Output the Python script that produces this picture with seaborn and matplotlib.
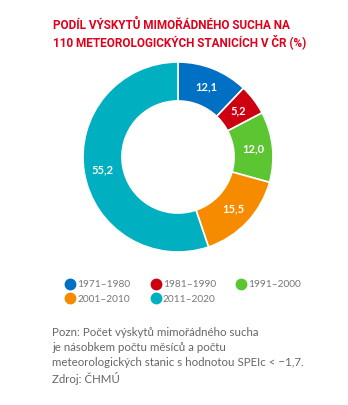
import matplotlib
matplotlib.use("Agg")
import matplotlib.pyplot as plt
import seaborn as sns
from matplotlib.lines import Line2D

sns.set_theme(style="white")
plt.rcParams['font.family'] = ['Lato', 'DejaVu Sans']

periods = ["1971–1980", "1981–1990", "1991–2000", "2001–2010", "2011–2020"]
shares = [12.1, 5.2, 12.0, 15.5, 55.2]
labels = ["12,1", "5,2", "12,0", "15,5", "55,2"]
colors = sns.color_palette(["#0070C4", "#CC0010", "#5CC632", "#F68B00", "#00AFC0"])

W, H = 348, 405
fig = plt.figure(figsize=(W / 100, H / 100), dpi=100)

# title
title_font = ['Roboto', 'DejaVu Sans']
fig.text(53 / W, 1 - 25 / H, "PODÍL VÝSKYTŮ MIMOŘÁDNÉHO SUCHA NA", color="#E0001B",
         fontsize=8.5, fontweight="bold", family=title_font, va="center", ha="left")
fig.text(53 / W, 1 - 42 / H, "110 METEOROLOGICKÝCH STANICÍCH V ČR (%)", color="#E0001B",
         fontsize=8.5, fontweight="bold", family=title_font, va="center", ha="left")

# donut
cx, cy, R = 178, 157, 95
ax = fig.add_axes([(cx - R) / W, 1 - (cy + R) / H, 2 * R / W, 2 * R / H])
wedges, texts = ax.pie(shares, colors=colors, startangle=90, counterclock=False,
                       radius=1, labels=labels, labeldistance=0.8,
                       wedgeprops=dict(width=0.41, edgecolor="white", linewidth=1.2),
                       textprops=dict(color="white", fontsize=8, fontweight="bold"))
for t in texts:
    t.set_ha("center")
    t.set_va("center")
ax.set_xlim(-1, 1)
ax.set_ylim(-1, 1)
ax.set_aspect("equal")
ax.axis("off")

# legend (row-wise order for a column-major legend)
order = [0, 3, 1, 4, 2]
handles = [Line2D([0], [0], marker="o", linestyle="", markersize=7.5,
                  markerfacecolor=c, markeredgecolor=c) for c in colors]
leg = fig.legend([handles[i] for i in order], [periods[i] for i in order], ncol=3,
                 loc="upper left", bbox_to_anchor=(60 / W, 1 - 276 / H), frameon=False,
                 fontsize=7.3, handletextpad=0.1, columnspacing=1.9,
                 labelspacing=0.55, handlelength=1.2, borderaxespad=0)
for t in leg.get_texts():
    t.set_color("#777777")

# note
note = ("Pozn: Počet výskytů mimořádného sucha\n"
        "je násobkem počtu měsíců a počtu\n"
        "meteorologických stanic s hodnotou SPEIc < −1,7.\n"
        "Zdroj: ČHMÚ")
fig.text(52 / W, 1 - 327 / H, note, color="#666666", fontsize=8.3,
         va="top", ha="left", linespacing=1.42)

fig.savefig("out.png", dpi=100)
